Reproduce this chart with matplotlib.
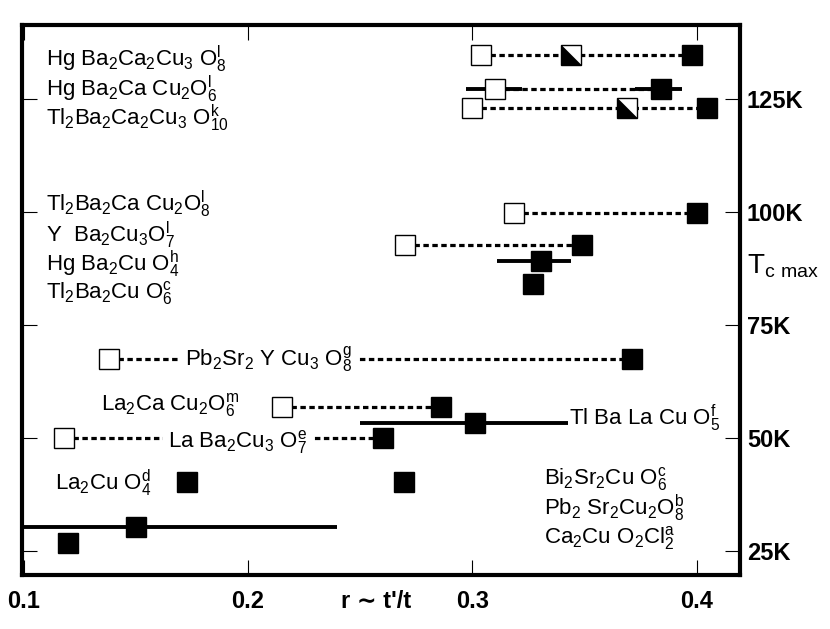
import re
import matplotlib
matplotlib.use("Agg")
import matplotlib.pyplot as plt

plt.rcParams['font.family'] = ['Liberation Sans', 'DejaVu Sans']
plt.rcParams['mathtext.fontset'] = 'custom'
plt.rcParams['mathtext.rm'] = 'Liberation Sans'

# rows joined by a dashed line: open square -> filled square
dash_names = ['Hg Ba_2Ca_2Cu_3 O_8^l', 'Hg Ba_2Ca Cu_2O_6^l', 'Tl_2Ba_2Ca_2Cu_3 O_10^k',
              'Tl_2Ba_2Ca Cu_2O_8^l', 'Y  Ba_2Cu_3O_7^l', 'Pb_2Sr_2 Y Cu_3 O_8^g',
              'La_2Ca Cu_2O_6^m', 'La Ba_2Cu_3 O_7^e']
open_r = [0.304, 0.310, 0.300, 0.3185, 0.270, 0.138, 0.215, 0.118]
open_tc = [134.7, 127.2, 123.0, 99.8, 92.7, 67.5, 56.9, 50.0]
end_r = [0.398, 0.384, 0.4045, 0.400, 0.349, 0.371, 0.286, 0.260]

# half filled squares
half_r = [0.344, 0.369]
half_tc = [134.7, 123.0]

# filled squares
full_r = [0.398, 0.384, 0.4045, 0.400, 0.349, 0.3305, 0.327, 0.371, 0.286,
          0.260, 0.301, 0.173, 0.2695, 0.150, 0.120]
full_tc = [134.7, 127.2, 123.0, 99.8, 92.7, 89.2, 84.1, 67.5, 56.9,
           50.0, 53.3, 40.2, 40.2, 30.3, 26.8]

# horizontal error bars (center, low, high)
err_r = [0.310, 0.384, 0.3305, 0.301, 0.150]
err_tc = [127.2, 127.2, 89.2, 53.3, 30.3]
err_lo = [0.297, 0.3724, 0.311, 0.250, 0.090]
err_hi = [0.322, 0.3933, 0.344, 0.3425, 0.2396]

# free labels
other_names = ['Hg Ba_2Cu O_4^h', 'Tl_2Ba_2Cu O_6^c', 'La_2Cu O_4^d', 'Tl Ba La Cu O_5^f',
               'Bi_2Sr_2Cu O_6^c', 'Pb_2 Sr_2Cu_2O_8^b', 'Ca_2Cu O_2Cl_2^a']

yticks = [25, 50, 75, 100, 125]
xticks = [0.1, 0.2, 0.3, 0.4]


def chem(s):
    def rep(m):
        out = r'$_\mathregular{%s}' % m.group(1)
        if m.group(2):
            out += r'^\mathregular{%s}' % m.group(2)
        return out + '$'
    s = re.sub(r'_(\d+)(?:\^(\w))?', rep, s)
    s = re.sub(r'\^(\w)', r'$^\\mathregular{\1}$', s)
    return s


fig = plt.figure(figsize=(8.3, 6.29), dpi=100)
ax = fig.add_axes([0.0265, 0.0859, 0.8651, 0.8744])

# dashed connections
for lo, hi, tc in zip(open_r, end_r, open_tc):
    ax.plot([lo, hi], [tc, tc], color='black', lw=2.3, ls=(0, (1.7, 1.1)), zorder=2)

ax.errorbar(err_r, err_tc,
            xerr=[[c - l for c, l in zip(err_r, err_lo)], [h - c for c, h in zip(err_r, err_hi)]],
            fmt='none', ecolor='black', elinewidth=2.8, capsize=0, zorder=3)

ax.plot(open_r, open_tc, 's', ms=14, mfc='white', mec='black', mew=1.0, ls='none', zorder=4)
ax.plot(half_r, half_tc, 's', ms=14, mfc='white', mec='black', mew=1.0, ls='none', zorder=4)
tri = [(-1, 1), (-1, -1), (1, -1), (-1, 1)]
ax.plot(half_r, half_tc, marker=tri, ms=14, mfc='black', mec='black', mew=0.5, ls='none', zorder=5)
ax.plot(full_r, full_tc, 's', ms=15, color='black', ls='none', zorder=4)

# labels
fs = 16
lab = dict(fontsize=fs, va='center', ha='left', zorder=6)
ax.text(0.110, 133.8, chem(dash_names[0]), **lab)
ax.text(0.110, 127.2, chem(dash_names[1]), **lab)
ax.text(0.110, 120.8, chem(dash_names[2]), **lab)
ax.text(0.110, 101.6, chem(dash_names[3]), **lab)
ax.text(0.110, 94.9, chem(dash_names[4]), **lab)
ax.text(0.110, 88.4, chem(other_names[0]), **lab)
ax.text(0.110, 82.0, chem(other_names[1]), **lab)
white = dict(facecolor='white', edgecolor='none', pad=4)
ax.text(0.172, 67.3, chem(dash_names[5]), bbox=white, **lab)
ax.text(0.1345, 57.3, chem(dash_names[6]), **lab)
ax.text(0.1644, 49.1, chem(dash_names[7]), bbox=white, **lab)
ax.text(0.114, 40.0, chem(other_names[2]), **lab)
ax.text(0.343, 54.4, chem(other_names[3]), **lab)
ax.text(0.332, 40.9, chem(other_names[4]), **lab)
ax.text(0.332, 34.5, chem(other_names[5]), **lab)
ax.text(0.332, 27.9, chem(other_names[6]), **lab)

ax.set_xlim(0.0993, 0.4192)
ax.set_ylim(19.7, 141.4)
ax.set_xticks(xticks)
ax.set_xticklabels(['%.1f' % v for v in xticks])
ax.set_yticks(yticks)
ax.set_yticklabels(['%dK' % v for v in yticks])
ax.tick_params(axis='both', direction='in', length=11, width=0.8,
               top=True, right=True, labelsize=17)
ax.tick_params(axis='y', left=True, labelleft=False, labelright=True, pad=5)
ax.tick_params(axis='x', pad=11)
for t in ax.get_xticklabels() + ax.get_yticklabels():
    t.set_fontweight('bold')
for sp in ax.spines.values():
    sp.set_linewidth(3)

ax.set_xlabel("r \u223c t'/t", fontsize=17, fontweight='bold')
ax.xaxis.set_label_coords(0.493, -0.028)
ax.text(1.01, 0.562, r'T$_\mathregular{c\ max}$', transform=ax.transAxes,
        fontsize=20, va='center', ha='left')

fig.savefig('out.png', dpi=100)
